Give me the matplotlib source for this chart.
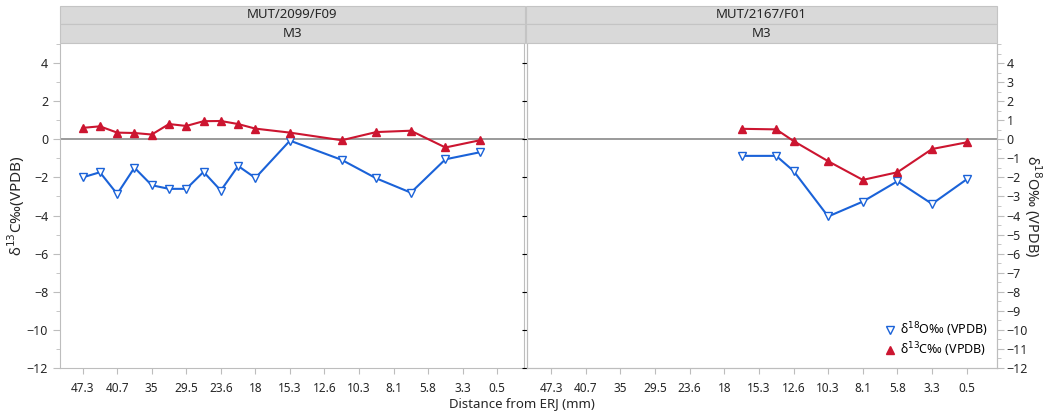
import matplotlib
matplotlib.use("Agg")
import matplotlib.pyplot as plt
from matplotlib.patches import Rectangle
from matplotlib.ticker import MultipleLocator
from matplotlib.lines import Line2D

plt.rcParams['font.family'] = ['Noto Sans', 'DejaVu Sans']

# category slots along the distance axis (every other slot labelled)
tick_pos = [0, 2, 4, 6, 8, 10, 12, 14, 16, 18, 20, 22, 24]
tick_labels = ['47.3', '40.7', '35', '29.5', '23.6', '18', '15.3',
               '12.6', '10.3', '8.1', '5.8', '3.3', '0.5']

# MUT/2099/F09, M3
left_pos = [0, 1, 2, 3, 4, 5, 6, 7, 8, 9, 10, 12, 15, 17, 19, 21, 23]
left_c13 = [0.6, 0.68, 0.35, 0.33, 0.25, 0.8, 0.7, 0.95, 0.96, 0.8, 0.56,
            0.35, -0.05, 0.38, 0.45, -0.43, -0.05]
left_o18 = [-2.0, -1.73, -2.87, -1.49, -2.41, -2.6, -2.6, -1.71, -2.69,
            -1.4, -2.03, -0.07, -1.08, -2.05, -2.8, -1.05, -0.68]

# MUT/2167/F01, M3
right_pos = [11, 13, 14, 16, 18, 20, 22, 24]
right_c13 = [0.55, 0.52, -0.09, -1.15, -2.13, -1.73, -0.51, -0.16]
right_o18 = [-0.87, -0.87, -1.66, -4.05, -3.27, -2.2, -3.39, -2.1]

panels = ['MUT/2099/F09', 'MUT/2167/F01']
tooth = 'M3'

RED = '#cc1530'
BLUE = '#1a62d8'
GRID = '#bdbdbd'
TXT = '#262626'

W, H = 1043, 415
fig = plt.figure(figsize=(W / 100, H / 100), dpi=100)


def fx(px):
    return px / W


def fy(py):
    return 1 - py / H


top, bot = 44, 368
ax1 = fig.add_axes([fx(60), fy(bot), fx(524 - 60), fy(top) - fy(bot)])
ax2 = fig.add_axes([fx(527), fy(bot), fx(997 - 527), fy(top) - fy(bot)])

series = [(ax1, left_pos, left_c13, left_o18, (-1.31, 25.55)),
          (ax2, right_pos, right_c13, right_o18, (-1.39, 25.75))]

for ax, pos, c13, o18, xl in series:
    ax.axhline(0, color='#7f7f7f', lw=1.1, zorder=1)
    ax.plot(pos, o18, color=BLUE, lw=1.5, marker='v', ms=6,
            mfc='white', mec=BLUE, mew=1.0, zorder=3)
    ax.plot(pos, c13, color=RED, lw=1.5, marker='^', ms=5.5,
            mfc=RED, mec=RED, zorder=3)
    ax.set_xlim(*xl)
    ax.set_ylim(-12, 5)
    ax.set_xticks(tick_pos)
    ax.set_xticklabels(tick_labels)
    for s in ax.spines.values():
        s.set_color(GRID)
    ax.spines['top'].set_visible(False)
    ax.tick_params(axis='x', colors=GRID, labelcolor=TXT, labelsize=8.5,
                   length=4, pad=6)

# left y axis
ax1.yaxis.set_minor_locator(MultipleLocator(1))
ax1.set_yticks(range(-12, 5, 2))
ax1.tick_params(axis='y', which='major', colors=GRID, labelcolor=TXT,
                labelsize=9, length=5)
ax1.tick_params(axis='y', which='minor', colors=GRID, length=3)
ax1.set_ylabel('δ$^{13}$C‰(VPDB)', fontsize=11, color=TXT, labelpad=0)

ax2.tick_params(axis='y', left=False, labelleft=False, which='both')

# right y axis for oxygen
ax2r = ax2.twinx()
ax2r.set_ylim(-12, 5)
ax2r.set_yticks(range(-12, 5))
ax2r.yaxis.set_minor_locator(MultipleLocator(0.5))
ax2r.tick_params(axis='y', which='major', colors=GRID, labelcolor=TXT,
                 labelsize=9, length=5, pad=2)
ax2r.tick_params(axis='y', which='minor', colors=GRID, length=3)
for s in ax2r.spines.values():
    s.set_color(GRID)
ax2r.spines['top'].set_visible(False)
ax2r.set_ylabel('δ$^{18}$O‰ (VPDB)', fontsize=10.5, color=TXT,
                rotation=270, labelpad=11)

# header strips over each panel
strip_rows = [(6, 24), (24, 43)]
for (x0, x1), name in zip([(60, 525), (526, 997)], panels):
    for (y0, y1), txt in zip(strip_rows, [name, tooth]):
        fig.patches.append(Rectangle((fx(x0), fy(y1)), fx(x1 - x0),
                                     fy(y0) - fy(y1), transform=fig.transFigure,
                                     facecolor='#d9d9d9', edgecolor='#c4c4c4',
                                     lw=0.8))
        fig.text(fx((x0 + x1) / 2), fy((y0 + y1) / 2), txt, ha='center',
                 va='center', fontsize=9.5, color=TXT)

fig.text(fx(522), fy(404), 'Distance from ERJ (mm)', ha='center',
         va='center', fontsize=9.5, color=TXT)

handles = [Line2D([], [], ls='none', marker='v', ms=6, mfc='white',
                  mec=BLUE, mew=1.0),
           Line2D([], [], ls='none', marker='^', ms=5.5, mfc=RED, mec=RED)]
ax2.legend(handles, ['δ$^{18}$O‰ (VPDB)', 'δ$^{13}$C‰ (VPDB)'],
           loc='lower right', frameon=False, fontsize=9,
           handletextpad=0.2, borderaxespad=0.3, labelspacing=0.15,
           handlelength=1.2, bbox_to_anchor=(1.0, 0.0))

fig.savefig('out.png', dpi=100)
